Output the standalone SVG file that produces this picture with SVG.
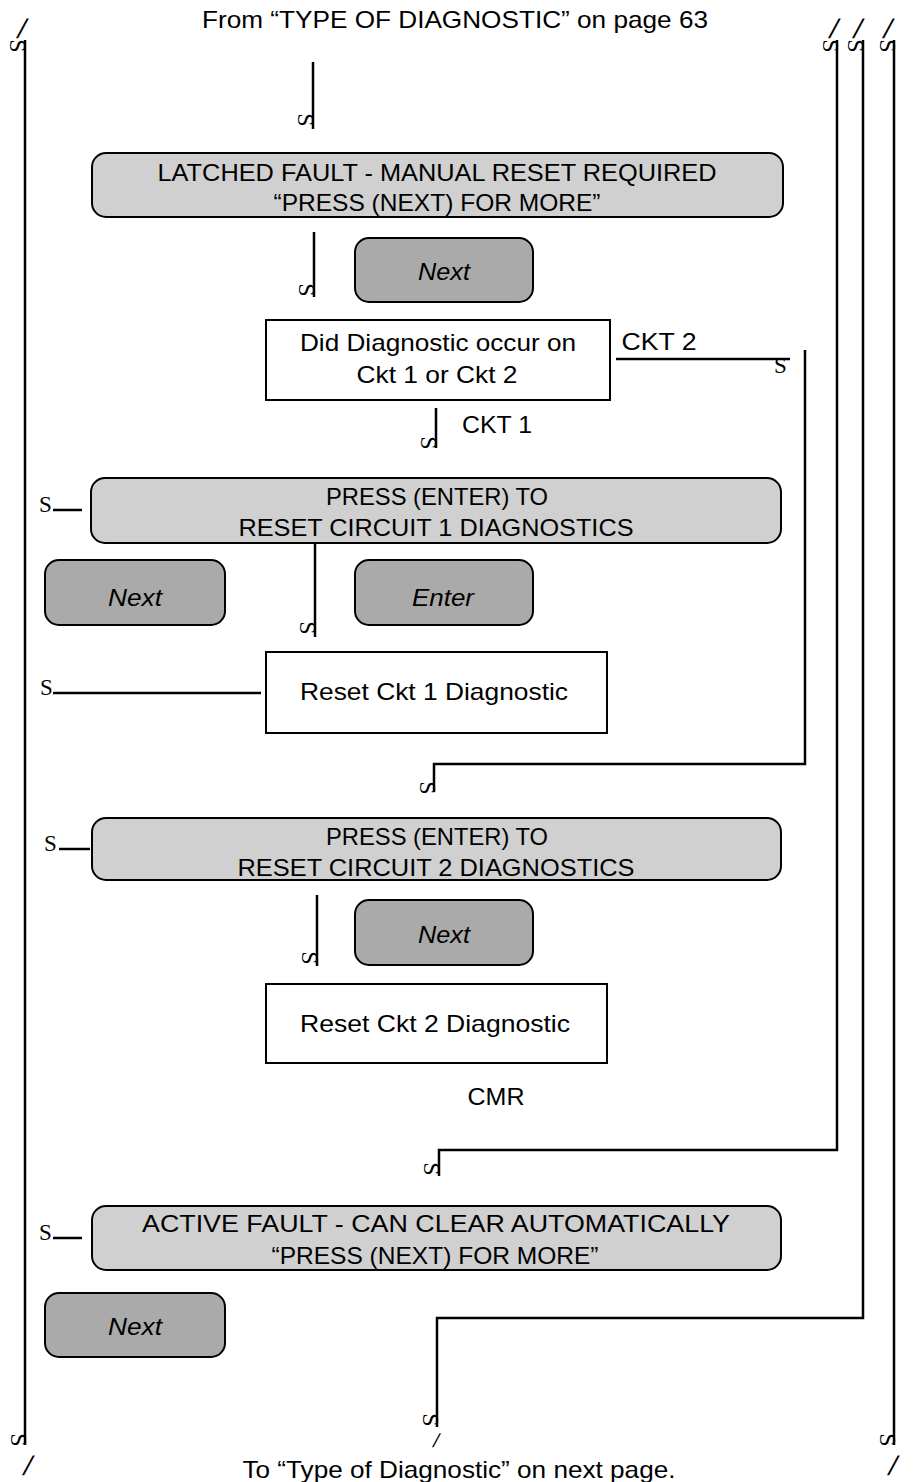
<svg xmlns="http://www.w3.org/2000/svg" width="913" height="1482" viewBox="0 0 913 1482">
<defs>
<style>
.t{font-family:"Liberation Sans",Arial,sans-serif;font-size:24px;fill:#000;text-anchor:middle}
.i{font-style:italic}
.s{font-family:"Liberation Serif","Times New Roman",serif;font-size:24px;fill:#000;text-anchor:middle}
.h{font-family:"Liberation Serif","Times New Roman",serif;font-size:23px;fill:#000}
.sl{font-family:"Liberation Sans",Arial,sans-serif;font-size:27px;fill:#000}
.lt{fill:#d0d0d0;stroke:#000;stroke-width:2}
.dk{fill:#aaaaaa;stroke:#000;stroke-width:2}
.wb{fill:#fff;stroke:#000;stroke-width:2}
.ln{fill:none;stroke:#000;stroke-width:2.5}
</style>
</defs>
<rect width="913" height="1482" fill="#fff"/>
<text class="t" x="455" y="28" textLength="506" lengthAdjust="spacingAndGlyphs">From “TYPE OF DIAGNOSTIC” on page 63</text>
<text class="t" x="459" y="1478" textLength="433" lengthAdjust="spacingAndGlyphs">To “Type of Diagnostic” on next page.</text>

<g id="connectors">
<path class="ln" d="M25 40V1445"/>
<path class="ln" d="M837 40V1150H439V1176"/>
<path class="ln" d="M863 40V1318H437V1427"/>
<path class="ln" d="M894 40V1445"/>
<path class="ln" d="M313 62V129"/>
<path class="ln" d="M314 232V297"/>
<path class="ln" d="M616 359H790"/>
<path class="ln" d="M805 350V764H434V792"/>
<path class="ln" d="M436 408V448"/>
<path class="ln" d="M53 510H82"/>
<path class="ln" d="M315 543V637"/>
<path class="ln" d="M53 693H261"/>
<path class="ln" d="M59 849H90"/>
<path class="ln" d="M317 895V966"/>
<path class="ln" d="M53 1238H82"/>
<text class="sl" transform="translate(16,38) skewX(-15)">/</text>
<text class="sl" transform="translate(828,38) skewX(-15)">/</text>
<text class="sl" transform="translate(852,38) skewX(-15)">/</text>
<text class="sl" transform="translate(882,38) skewX(-15)">/</text>
<text class="sl" transform="translate(22,1475) skewX(-15)">/</text>
<text class="sl" style="font-size:19px" transform="translate(432,1447) skewX(-15)">/</text>
<text class="sl" transform="translate(887,1475) skewX(-15)">/</text>
<text class="s" transform="translate(10,46) rotate(90)">S</text>
<text class="s" transform="translate(823,46) rotate(90)">S</text>
<text class="s" transform="translate(848,46) rotate(90)">S</text>
<text class="s" transform="translate(880,46) rotate(90)">S</text>
<text class="s" transform="translate(298,120) rotate(90)">S</text>
<text class="s" transform="translate(299,290) rotate(90)">S</text>
<text class="s" transform="translate(421,443) rotate(90)">S</text>
<text class="s" transform="translate(300,628) rotate(90)">S</text>
<text class="s" transform="translate(420,788) rotate(90)">S</text>
<text class="s" transform="translate(302,958) rotate(90)">S</text>
<text class="s" transform="translate(424,1169) rotate(90)">S</text>
<text class="s" transform="translate(423,1420) rotate(90)">S</text>
<text class="s" transform="translate(11,1440) rotate(90)">S</text>
<text class="s" transform="translate(880,1440) rotate(90)">S</text>
<text class="h" x="774" y="373">S</text>
<text class="h" x="39" y="512">S</text>
<text class="h" x="40" y="695">S</text>
<text class="h" x="44" y="851">S</text>
<text class="h" x="39" y="1240">S</text>
<text class="t" x="659" y="350" textLength="75" lengthAdjust="spacingAndGlyphs">CKT 2</text>
<text class="t" x="497" y="433" textLength="70" lengthAdjust="spacingAndGlyphs">CKT 1</text>
<text class="t" x="496" y="1105" textLength="57" lengthAdjust="spacingAndGlyphs">CMR</text>
</g>

<g id="latched">
<rect class="lt" x="92" y="153" width="691" height="64" rx="14"/>
<text class="t" x="437" y="181" textLength="559" lengthAdjust="spacingAndGlyphs">LATCHED FAULT - MANUAL RESET REQUIRED</text>
<text class="t" x="437" y="211" textLength="327" lengthAdjust="spacingAndGlyphs">“PRESS (NEXT) FOR MORE”</text>
</g>
<g id="next1">
<rect class="dk" x="355" y="238" width="178" height="64" rx="14"/>
<text class="t i" x="444" y="280" textLength="52" lengthAdjust="spacingAndGlyphs">Next</text>
</g>
<g id="question">
<rect class="wb" x="266" y="320" width="344" height="80"/>
<text class="t" x="438" y="351" textLength="276" lengthAdjust="spacingAndGlyphs">Did Diagnostic occur on</text>
<text class="t" x="437" y="383" textLength="161" lengthAdjust="spacingAndGlyphs">Ckt 1 or Ckt 2</text>
</g>
<g id="press1">
<rect class="lt" x="91" y="478" width="690" height="65" rx="14"/>
<text class="t" x="437" y="505" textLength="222" lengthAdjust="spacingAndGlyphs">PRESS (ENTER) TO</text>
<text class="t" x="436" y="536" textLength="395" lengthAdjust="spacingAndGlyphs">RESET CIRCUIT 1 DIAGNOSTICS</text>
</g>
<g id="next2">
<rect class="dk" x="45" y="560" width="180" height="65" rx="14"/>
<text class="t i" x="135" y="606" textLength="54" lengthAdjust="spacingAndGlyphs">Next</text>
</g>
<g id="enter">
<rect class="dk" x="355" y="560" width="178" height="65" rx="14"/>
<text class="t i" x="443" y="606" textLength="62" lengthAdjust="spacingAndGlyphs">Enter</text>
</g>
<g id="reset1">
<rect class="wb" x="266" y="652" width="341" height="81"/>
<text class="t" x="434" y="700" textLength="268" lengthAdjust="spacingAndGlyphs">Reset Ckt 1 Diagnostic</text>
</g>
<g id="press2">
<rect class="lt" x="92" y="818" width="689" height="62" rx="14"/>
<text class="t" x="437" y="845" textLength="222" lengthAdjust="spacingAndGlyphs">PRESS (ENTER) TO</text>
<text class="t" x="436" y="876" textLength="397" lengthAdjust="spacingAndGlyphs">RESET CIRCUIT 2 DIAGNOSTICS</text>
</g>
<g id="next3">
<rect class="dk" x="355" y="900" width="178" height="65" rx="14"/>
<text class="t i" x="444" y="943" textLength="52" lengthAdjust="spacingAndGlyphs">Next</text>
</g>
<g id="reset2">
<rect class="wb" x="266" y="984" width="341" height="79"/>
<text class="t" x="435" y="1032" textLength="270" lengthAdjust="spacingAndGlyphs">Reset Ckt 2 Diagnostic</text>
</g>
<g id="active">
<rect class="lt" x="92" y="1206" width="689" height="64" rx="14"/>
<text class="t" x="436" y="1232" textLength="588" lengthAdjust="spacingAndGlyphs">ACTIVE FAULT - CAN CLEAR AUTOMATICALLY</text>
<text class="t" x="435" y="1264" textLength="327" lengthAdjust="spacingAndGlyphs">“PRESS (NEXT) FOR MORE”</text>
</g>
<g id="next4">
<rect class="dk" x="45" y="1293" width="180" height="64" rx="14"/>
<text class="t i" x="135" y="1335" textLength="54" lengthAdjust="spacingAndGlyphs">Next</text>
</g>
</svg>
